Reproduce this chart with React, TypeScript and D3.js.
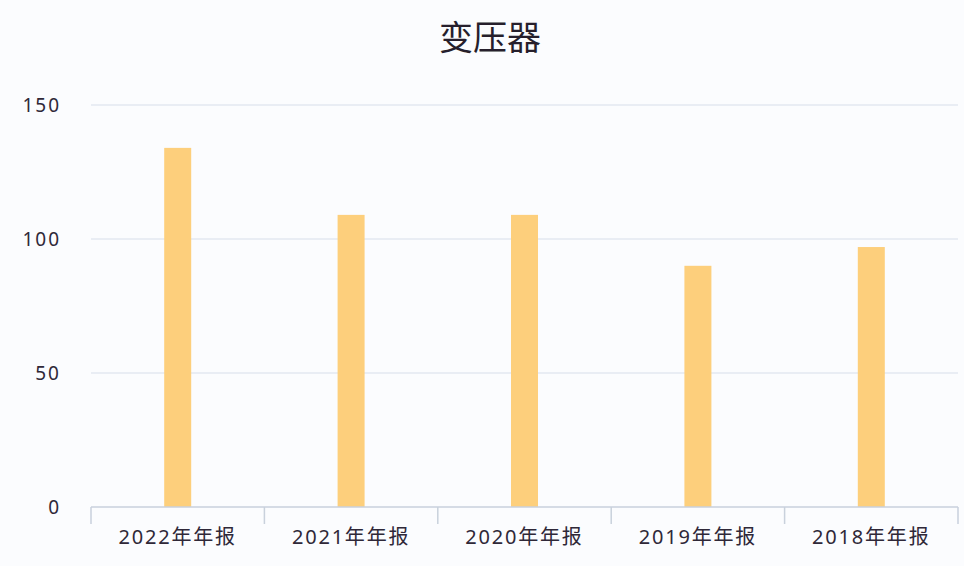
import React from "react";
import * as d3 from "d3";

const title = "变压器";
const categories = ["2022年年报", "2021年年报", "2020年年报", "2019年年报", "2018年年报"];
const values = [134, 109, 109, 90, 97];
const yTicks = [0, 50, 100, 150];

const W = 964;
const H = 566;
const margin = { left: 91, right: 6, top: 105, bottom: 59 };

export default function App() {
  const x = d3
    .scaleBand<string>()
    .domain(categories)
    .range([margin.left, W - margin.right])
    .paddingInner(0)
    .paddingOuter(0);
  const y = d3.scaleLinear().domain([0, 150]).range([H - margin.bottom, margin.top]);
  const barW = 27;
  const textColor = "#2f2838";
  const font = "'Noto Sans', 'Noto Sans CJK SC', sans-serif";

  return (
    <svg
      width={W}
      height={H}
      style={{ position: "absolute", left: 0, top: 0, background: "#fbfcfe" }}
      fontFamily={font}
    >
      <rect x={0} y={0} width={W} height={H} fill="#fbfcfe" />
      <text
        x={490}
        y={50}
        textAnchor="middle"
        fontSize={34}
        fill="#261f2c"
        fontFamily="'Noto Sans CJK SC', sans-serif"
      >
        {title}
      </text>
      {yTicks.map((t) => (
        <g key={t}>
          {t !== 0 && (
            <line
              x1={margin.left}
              x2={W - margin.right}
              y1={y(t)}
              y2={y(t)}
              stroke="#e3e8f0"
              strokeWidth={1.5}
            />
          )}
          <text
            x={61}
            y={y(t)}
            dy="0.35em"
            textAnchor="end"
            fontSize={19}
            letterSpacing={2}
            fill={textColor}
          >
            {t}
          </text>
        </g>
      ))}
      {categories.map((c, i) => (
        <rect
          key={c}
          x={(x(c) as number) + x.bandwidth() / 2 - barW / 2}
          y={y(values[i])}
          width={barW}
          height={y(0) - y(values[i])}
          fill="#fdcf7c"
        />
      ))}
      <line
        x1={margin.left}
        x2={W - margin.right}
        y1={y(0)}
        y2={y(0)}
        stroke="#c9d1dc"
        strokeWidth={1.5}
      />
      {[...categories.map((c) => x(c) as number), W - margin.right].map((tx, i) => (
        <line key={i} x1={tx} x2={tx} y1={y(0)} y2={y(0) + 17} stroke="#c9d1dc" strokeWidth={1.5} />
      ))}
      {categories.map((c) => (
        <text
          key={c}
          x={(x(c) as number) + x.bandwidth() / 2}
          y={537}
          dy="0.35em"
          textAnchor="middle"
          fontSize={20}
          letterSpacing={1.8}
          fill={textColor}
        >
          {c}
        </text>
      ))}
    </svg>
  );
}
